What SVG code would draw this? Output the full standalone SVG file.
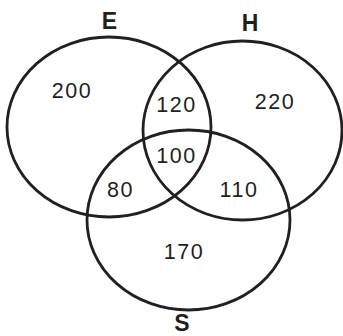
<svg xmlns="http://www.w3.org/2000/svg" width="343" height="336" viewBox="0 0 343 336">
<style>
.c{fill:none;stroke:#231f20;stroke-width:2.8}
.n{font-family:"Liberation Sans",Arial,sans-serif;font-size:21.5px;letter-spacing:1.5px;fill:#231f20;text-anchor:middle}
.l{font-family:"Liberation Sans",Arial,sans-serif;font-size:23px;font-weight:bold;fill:#231f20;text-anchor:middle}
</style>
<rect width="343" height="336" fill="#fff"/>
<g id="E"><ellipse class="c" cx="109" cy="127" rx="102" ry="90"/><text class="l" x="109.5" y="28.5">E</text></g>
<g id="H"><ellipse class="c" cx="242.5" cy="130.5" rx="99.5" ry="89.5"/><text class="l" x="250" y="31">H</text></g>
<g id="S"><ellipse class="c" cx="188.5" cy="220" rx="101.5" ry="90"/><text class="l" x="182" y="331">S</text></g>
<g id="regions">
<text class="n" x="72" y="98">200</text>
<text class="n" x="275" y="109">220</text>
<text class="n" x="176.5" y="112">120</text>
<text class="n" x="176.5" y="163">100</text>
<text class="n" x="120.5" y="197">80</text>
<text class="n" x="239" y="197">110</text>
<text class="n" x="184" y="259">170</text>
</g>
</svg>
